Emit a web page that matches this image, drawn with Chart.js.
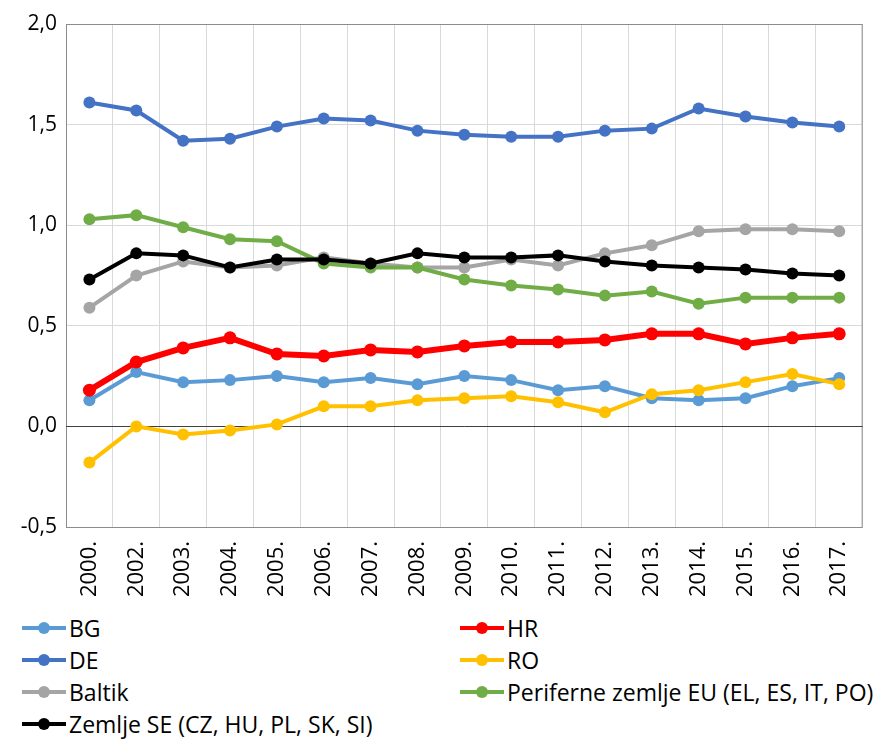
<!DOCTYPE html>
<html>
<head>
<meta charset="utf-8">
<script src="https://cdn.jsdelivr.net/npm/chart.js@4.4.0/dist/chart.umd.min.js"></script>
<style>
  body { margin: 0; background: #fff; }
  #wrap { position: relative; width: 880px; height: 740px; }
  #legenda {
    position: absolute; left: 0; top: 612px; width: 880px;
    display: grid; grid-template-columns: 438px 442px;
    font-family: "Open Sans", sans-serif; font-size: 23px; color: #000;
  }
  .item { display: flex; align-items: center; height: 32px; padding-left: 22px; white-space: nowrap; }
  .marca { position: relative; width: 44px; height: 14px; margin-right: 3px; flex: none; }
  .marca .linija { position: absolute; left: 0; right: 0; top: 5px; height: 4px; }
  .marca .tocka { position: absolute; left: 16px; top: 1px; width: 12px; height: 12px; border-radius: 50%; }
</style>
</head>
<body>
<div id="wrap">
  <canvas id="grafikon" width="880" height="612"></canvas>
  <div id="legenda"></div>
</div>
<script>
// Godine (2001. nema u podacima)
const godine = ['2000.', '2002.', '2003.', '2004.', '2005.', '2006.', '2007.', '2008.', '2009.',
  '2010.', '2011.', '2012.', '2013.', '2014.', '2015.', '2016.', '2017.'];

const nazivi = ['BG', 'HR', 'DE', 'RO', 'Baltik', 'Periferne zemlje EU (EL, ES, IT, PO)', 'Zemlje SE (CZ, HU, PL, SK, SI)'];

const bg = [0.13, 0.27, 0.22, 0.23, 0.25, 0.22, 0.24, 0.21, 0.25, 0.23, 0.18, 0.20, 0.14, 0.13, 0.14, 0.20, 0.24];
const hr = [0.18, 0.32, 0.39, 0.44, 0.36, 0.35, 0.38, 0.37, 0.40, 0.42, 0.42, 0.43, 0.46, 0.46, 0.41, 0.44, 0.46];
const de = [1.61, 1.57, 1.42, 1.43, 1.49, 1.53, 1.52, 1.47, 1.45, 1.44, 1.44, 1.47, 1.48, 1.58, 1.54, 1.51, 1.49];
const ro = [-0.18, 0.00, -0.04, -0.02, 0.01, 0.10, 0.10, 0.13, 0.14, 0.15, 0.12, 0.07, 0.16, 0.18, 0.22, 0.26, 0.21];
const baltik = [0.59, 0.75, 0.82, 0.79, 0.80, 0.84, 0.81, 0.79, 0.79, 0.83, 0.80, 0.86, 0.90, 0.97, 0.98, 0.98, 0.97];
const periferne = [1.03, 1.05, 0.99, 0.93, 0.92, 0.81, 0.79, 0.79, 0.73, 0.70, 0.68, 0.65, 0.67, 0.61, 0.64, 0.64, 0.64];
const zemljeSE = [0.73, 0.86, 0.85, 0.79, 0.83, 0.83, 0.81, 0.86, 0.84, 0.84, 0.85, 0.82, 0.80, 0.79, 0.78, 0.76, 0.75];

const serije = [bg, hr, de, ro, baltik, periferne, zemljeSE];
const boje = ['#5B9BD5', '#FF0000', '#4472C4', '#FFC000', '#A5A5A5', '#70AD47', '#000000'];
const debljine = [4, 6, 4, 4, 4, 4, 4];

const skupovi = serije.map((podaci, i) => ({
  label: nazivi[i],
  data: podaci,
  borderColor: boje[i],
  backgroundColor: boje[i],
  borderWidth: debljine[i],
  pointRadius: i === 1 ? 6.5 : 6,
  pointHoverRadius: 6,
  pointBorderWidth: 0,
  tension: 0,
  order: -i // kasnije serije iscrtavaju se preko ranijih
}));

// Okvir oko područja grafikona
const okvir = {
  id: 'okvir',
  beforeDatasetsDraw(chart) {
    const { ctx, chartArea: a } = chart;
    ctx.save();
    ctx.strokeStyle = '#8C8C8C';
    ctx.lineWidth = 1;
    ctx.strokeRect(a.left + 0.5, a.top + 0.5, a.right - a.left - 1, a.bottom - a.top);
    // nulta linija
    const y0 = Math.round(chart.scales.y.getPixelForValue(0)) + 0.5;
    ctx.strokeStyle = '#404040';
    ctx.beginPath();
    ctx.moveTo(a.left, y0);
    ctx.lineTo(a.right, y0);
    ctx.stroke();
    ctx.restore();
  }
};

const ctx = document.getElementById('grafikon').getContext('2d');
const grafikon = new Chart(ctx, {
  type: 'line',
  data: { labels: godine, datasets: skupovi },
  options: {
    responsive: false,
    animation: false,
    layout: { padding: { top: 24, right: 13, left: 0, bottom: 0 } },
    plugins: { legend: { display: false }, tooltip: { enabled: false } },
    scales: {
      x: {
        offset: true,
        grid: { offset: true, color: '#D9D9D9', drawTicks: false },
        border: { display: false },
        ticks: {
          minRotation: 90, maxRotation: 90, padding: 14,
          color: '#000', font: { family: 'Open Sans', size: 22 }
        },
        afterFit(s) { s.height = 85; }
      },
      y: {
        min: -0.5, max: 2,
        grid: { color: '#D9D9D9', drawTicks: false },
        border: { display: false },
        ticks: {
          stepSize: 0.5, padding: 9, color: '#000',
          font: { family: 'Open Sans', size: 21 },
          callback: v => v.toFixed(1).replace('.', ',')
        },
        afterFit(s) { s.width = 66; }
      }
    }
  },
  plugins: [okvir]
});

// Legenda u dva stupca
const legenda = document.getElementById('legenda');
grafikon.data.datasets.forEach(ds => {
  const el = document.createElement('div');
  el.className = 'item';
  el.innerHTML = `
    <span class="marca">
      <span class="linija" style="background:${ds.borderColor}"></span>
      <span class="tocka" style="background:${ds.borderColor}"></span>
    </span>
    <span>${ds.label}</span>`;
  legenda.appendChild(el);
});
</script>
</body>
</html>
